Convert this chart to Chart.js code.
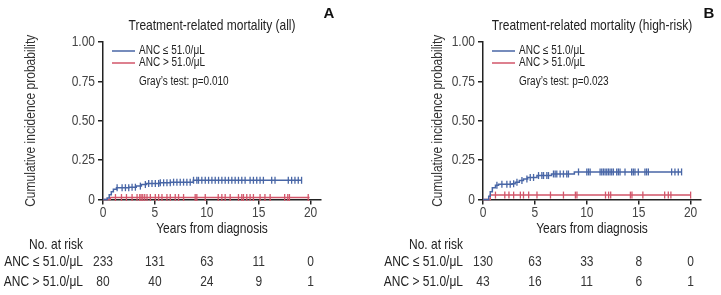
<!DOCTYPE html>
<html>
<head>
<meta charset="utf-8">
<script src="https://cdn.jsdelivr.net/npm/chart.js@4.4.1/dist/chart.umd.min.js"></script>
<style>
  html, body { margin: 0; padding: 0; background: #fff; }
  #wrap { position: relative; width: 721px; height: 295px; overflow: hidden; }
  canvas { position: absolute; top: 0; }
</style>
</head>
<body>
<div id="wrap">
  <canvas id="cA" width="360" height="295" style="left:0;width:360px;height:295px"></canvas>
  <canvas id="cB" width="361" height="295" style="left:360px;width:361px;height:295px"></canvas>
</div>
<script>
// ---------- data ----------
const xTicks = [0, 5, 10, 15, 20];
const yTicks = [0, 0.25, 0.5, 0.75, 1];
const yTickLabels = ['0', '0.25', '0.50', '0.75', '1.00'];
const seriesLabels = ['ANC \u2264 51.0/\u03bcL', 'ANC > 51.0/\u03bcL'];
const riskRowLabels = ['ANC \u2264 51.0/\u03bcL', 'ANC > 51.0/\u03bcL'];

// Panel A: all patients
const aLowTimes = [0, 0.4, 0.6, 0.8, 1.0, 1.3, 2.5, 3.2, 3.7, 4.2, 5.5, 6.5, 8.7, 19.13];
const aLowCif   = [0, 0.01, 0.03, 0.05, 0.065, 0.075, 0.078, 0.085, 0.095, 0.102, 0.106, 0.11, 0.122, 0.122];
const aLowCensor = [1.36, 1.84, 2.16, 2.48, 2.80, 3.12, 3.60, 4.08, 4.40, 4.72, 5.04, 5.36, 5.52, 5.84, 6.16, 6.48, 6.80, 7.12, 7.44, 7.76, 8.08, 8.40, 8.72, 9.04, 9.20, 9.52, 9.85, 10.17, 10.49, 10.81, 11.13, 11.45, 11.77, 12.09, 12.41, 12.73, 13.05, 13.37, 13.69, 14.17, 14.49, 14.81, 15.13, 15.45, 16.25, 16.57, 17.85, 18.17, 18.49, 18.81, 19.13];
const aHighTimes = [0, 0.7, 19.9];
const aHighCif   = [0, 0.0125, 0.0125];
const aHighCensor = [1.2, 1.78, 2.26, 2.8, 3.28, 3.54, 3.67, 3.83, 4.02, 4.24, 4.56, 5.04, 5.36, 5.68, 6.16, 6.48, 6.96, 7.28, 7.76, 8.88, 9.04, 9.85, 11.1, 11.45, 11.77, 12.25, 13.05, 13.37, 13.53, 13.85, 14.17, 14.49, 15.13, 15.6, 16.1, 17.5, 17.8, 17.96, 19.77];
const aRiskLow  = [233, 131, 63, 11, 0];
const aRiskHigh = [80, 40, 24, 9, 1];

// Panel B: high-risk patients
const bLowTimes = [0, 0.55, 0.7, 0.9, 1.2, 1.5, 2.8, 3.1, 3.5, 3.9, 4.3, 5.2, 6.6, 8.8, 19.13];
const bLowCif   = [0, 0.02, 0.05, 0.075, 0.09, 0.097, 0.10, 0.11, 0.12, 0.13, 0.14, 0.152, 0.162, 0.175, 0.175];
const bLowCensor = [1.34, 1.82, 2.30, 2.62, 2.95, 3.27, 3.75, 4.23, 4.55, 4.87, 5.35, 5.67, 5.83, 6.15, 6.31, 6.79, 6.95, 7.11, 7.43, 7.75, 8.07, 8.23, 9.2, 10.0, 10.16, 10.32, 11.28, 11.44, 11.6, 11.76, 11.92, 12.08, 12.24, 12.4, 12.56, 12.88, 13.04, 13.2, 13.68, 14.32, 14.48, 14.64, 14.96, 15.6, 15.76, 15.93, 18.17, 18.49, 18.81, 19.13];
const bHighTimes = [0, 0.7, 20.0];
const bHighCif   = [0, 0.028, 0.028];
const bHighCensor = [1.2, 2.1, 2.5, 2.95, 3.6, 3.9, 4.4, 5.2, 6.5, 7.75, 8.9, 9.05, 11.8, 12.1, 12.3, 14.2, 14.35, 15.4, 17.5, 17.85, 18.1, 20.0];
const bRiskLow  = [130, 63, 33, 8, 0];
const bRiskHigh = [43, 16, 11, 6, 1];

// ---------- styling ----------
const BLUE = '#4866a6';
const RED = '#d2566a';
const AXIS = '#222';
const FONT = "'Liberation Sans', Arial, sans-serif";
const SX = 0.8; // horizontal condensing to mimic a narrow face

function stepValue(times, cif, t) {
  let v = cif[0];
  for (let i = 0; i < times.length; i++) { if (times[i] <= t) v = cif[i]; }
  return v;
}
function curvePts(times, cif) { return times.map((t, i) => ({ x: t, y: cif[i] })); }
function censorPts(cens, times, cif) { return cens.map(t => ({ x: t, y: stepValue(times, cif, t) })); }

function txt(ctx, s, x, y, align, size, color, rot) {
  ctx.save();
  ctx.translate(x, y);
  if (rot) ctx.rotate(rot);
  ctx.scale(SX, 1);
  ctx.font = size + 'px ' + FONT;
  ctx.fillStyle = color;
  ctx.textAlign = align;
  ctx.textBaseline = 'middle';
  ctx.fillText(s, 0, 0);
  ctx.restore();
}

const decorPlugin = {
  id: 'decor',
  afterDraw(chart) {
    const o = chart.options.plugins.decor;
    const ctx = chart.ctx, ca = chart.chartArea;
    const xs = chart.scales.x, ys = chart.scales.y;
    const cx = (ca.left + ca.right) / 2;
    // panel title
    txt(ctx, o.title, cx, 26, 'center', 15, '#222');
    // panel letter
    ctx.save();
    ctx.font = 'bold 15px ' + FONT;
    ctx.fillStyle = '#111';
    ctx.textAlign = 'center'; ctx.textBaseline = 'middle';
    ctx.fillText(o.letter, o.letterX, 14);
    ctx.restore();
    // tick labels
    yTicks.forEach((v, i) => txt(ctx, yTickLabels[i], ca.left - 8, ys.getPixelForValue(v), 'right', 15, '#444'));
    xTicks.forEach(v => txt(ctx, String(v), xs.getPixelForValue(v), ca.bottom + 13, 'center', 15, '#444'));
    // axis titles
    txt(ctx, 'Cumulative incidence probability', o.yTitleX, (ca.top + ca.bottom) / 2, 'center', 15, '#333', -Math.PI / 2);
    txt(ctx, 'Years from diagnosis', cx, 229, 'center', 15, '#222');
    // legend
    const colors = [BLUE, RED];
    const legY = [51, 63];
    for (let i = 0; i < 2; i++) {
      ctx.save();
      ctx.strokeStyle = colors[i]; ctx.lineWidth = 1.5;
      ctx.beginPath(); ctx.moveTo(ca.left + 9, legY[i]); ctx.lineTo(ca.left + 32, legY[i]); ctx.stroke();
      ctx.restore();
      txt(ctx, seriesLabels[i], ca.left + 36, legY[i], 'left', 12.5, '#222');
    }
    txt(ctx, o.pText, ca.left + 36, 82, 'left', 12.5, '#222');
    // risk table
    const labX = ca.left - 20;
    txt(ctx, 'No. at risk', labX, 245, 'right', 15, '#222');
    txt(ctx, riskRowLabels[0], labX, 262, 'right', 15, '#222');
    txt(ctx, riskRowLabels[1], labX, 282, 'right', 15, '#222');
    xTicks.forEach((t, i) => {
      const px = xs.getPixelForValue(t);
      txt(ctx, String(o.riskLow[i]), px, 262, 'center', 15, '#333');
      txt(ctx, String(o.riskHigh[i]), px, 282, 'center', 15, '#333');
    });
  }
};

function makeChart(id, cfg) {
  const datasets = [
    { data: curvePts(cfg.lowT, cfg.lowC), borderColor: BLUE, borderWidth: 1.5, stepped: 'before', pointRadius: 0, fill: false, clip: false },
    { data: censorPts(cfg.lowCens, cfg.lowT, cfg.lowC), showLine: false, pointStyle: 'line', rotation: 90, pointRadius: 3.5, borderColor: BLUE, pointBorderColor: BLUE, pointBorderWidth: 1.3, clip: false },
    { data: curvePts(cfg.highT, cfg.highC), borderColor: RED, borderWidth: 1.5, stepped: 'before', pointRadius: 0, fill: false, clip: false },
    { data: censorPts(cfg.highCens, cfg.highT, cfg.highC), showLine: false, pointStyle: 'line', rotation: 90, pointRadius: 3.5, borderColor: RED, pointBorderColor: RED, pointBorderWidth: 1.3, clip: false }
  ];
  return new Chart(document.getElementById(id), {
    type: 'line',
    data: { datasets },
    plugins: [decorPlugin],
    options: {
      responsive: false,
      animation: false,
      devicePixelRatio: 1,
      layout: { padding: { left: 0, top: 42, right: cfg.padRight, bottom: 0 } },
      plugins: {
        legend: { display: false },
        tooltip: { enabled: false },
        decor: cfg.decor
      },
      scales: {
        x: {
          type: 'linear', min: 0, max: 21,
          afterBuildTicks: s => { s.ticks = xTicks.map(v => ({ value: v })); },
          afterFit: s => { s.height = 95.5; },
          grid: { display: true, drawOnChartArea: false, drawTicks: true, tickLength: 5, color: AXIS, lineWidth: 1.5 },
          border: { display: true, color: AXIS, width: 1.5 },
          ticks: { display: false }
        },
        y: {
          type: 'linear', min: 0, max: 1,
          afterBuildTicks: s => { s.ticks = yTicks.map(v => ({ value: v })); },
          afterFit: s => { s.width = cfg.yWidth; },
          grid: { display: true, drawOnChartArea: false, drawTicks: true, tickLength: 5, color: AXIS, lineWidth: 1.5 },
          border: { display: true, color: AXIS, width: 1.5 },
          ticks: { display: false }
        }
      }
    }
  });
}

makeChart('cA', {
  lowT: aLowTimes, lowC: aLowCif, lowCens: aLowCensor,
  highT: aHighTimes, highC: aHighCif, highCens: aHighCensor,
  yWidth: 103, padRight: 39,
  decor: { title: 'Treatment-related mortality (all)', letter: 'A', letterX: 329, yTitleX: 31, pText: 'Gray\u2019s test: p=0.010', riskLow: aRiskLow, riskHigh: aRiskHigh }
});
makeChart('cB', {
  lowT: bLowTimes, lowC: bLowCif, lowCens: bLowCensor,
  highT: bHighTimes, highC: bHighCif, highCens: bHighCensor,
  yWidth: 123, padRight: 20,
  decor: { title: 'Treatment-related mortality (high-risk)', letter: 'B', letterX: 349, yTitleX: 78, pText: 'Gray\u2019s test: p=0.023', riskLow: bRiskLow, riskHigh: bRiskHigh }
});
</script>
</body>
</html>
